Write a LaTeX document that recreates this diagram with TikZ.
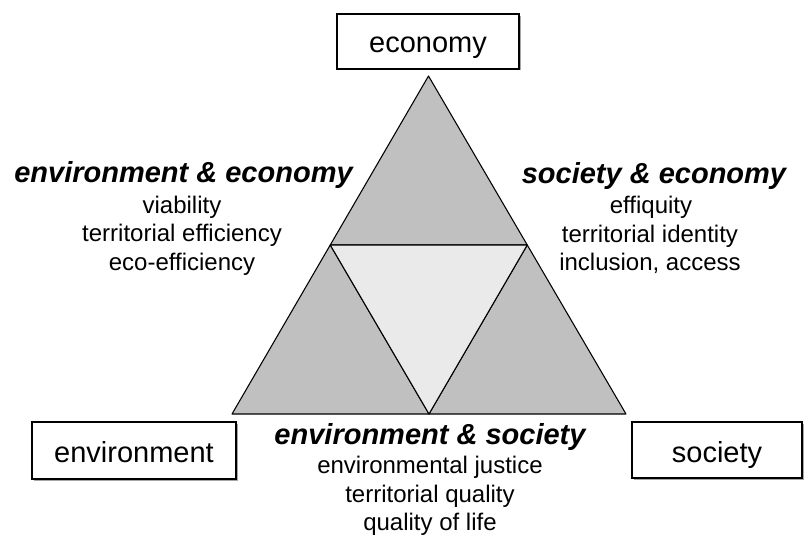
\documentclass[tikz,border=0pt]{standalone}
\usepackage{fontspec}
\setmainfont{Liberation Sans}
\usetikzlibrary{calc}
\begin{document}
\begin{tikzpicture}[x=0.75pt,y=-0.75pt,
  dark/.style={fill=tridark,draw=black,line width=0.8pt,line join=round},
  light/.style={fill=trilight,draw=black,line width=0.8pt,line join=round},
  pillar/.style={draw=black,line width=1.1pt,fill=white,inner sep=0pt},
  boxtext/.style={font=\fontsize{21.75}{26}\selectfont,anchor=base,inner sep=0pt},
  headtext/.style={font=\fontsize{21.75}{26}\selectfont\bfseries\itshape,anchor=base,inner sep=0pt},
  bodytext/.style={font=\fontsize{18}{21}\selectfont,anchor=base,inner sep=0pt}]
\definecolor{tridark}{HTML}{C0C0C0}
\definecolor{trilight}{HTML}{EAEAEA}
\useasboundingbox (0,0) rectangle (804,535);
% triangle vertices
\coordinate (A) at (428.5,76);
\coordinate (L) at (232,414);
\coordinate (R) at (626,414);
\coordinate (ML) at ($(A)!0.5!(L)$);
\coordinate (MR) at ($(A)!0.5!(R)$);
\coordinate (MB) at ($(L)!0.5!(R)$);
\draw[dark] (A) -- (ML) -- (MR) -- cycle;
\draw[dark] (ML) -- (L) -- (MB) -- cycle;
\draw[dark] (MR) -- (MB) -- (R) -- cycle;
\draw[light] (ML) -- (MR) -- (MB) -- cycle;
% boxes
\fill[gray!70] (339,16) rectangle (520.5,70.5);
\draw[pillar] (337,14) rectangle (519,69);
\node[boxtext] (eco) at (428,53) {economy};
\fill[gray!70] (34,424) rectangle (237.5,480.5);
\draw[pillar] (32,422) rectangle (236,479);
\node[boxtext] (env) at (134,462) {environment};
\fill[gray!70] (634,424) rectangle (803.5,479.5);
\draw[pillar] (632,422) rectangle (802,478);
\node[boxtext] (soc) at (717,462) {society};
% environment & economy
\node[headtext] (ee) at (183.5,182) {environment \& economy};
\node[bodytext] (ee1) at (182,213) {viability};
\node[bodytext] (ee2) at (182,241.5) {territorial efficiency};
\node[bodytext] (ee3) at (182,270) {eco-efficiency};
% society & economy
\node[headtext] (se) at (654,183) {society \& economy};
\node[bodytext] (se1) at (651,213) {effiquity};
\node[bodytext] (se2) at (650,242) {territorial identity};
\node[bodytext] (se3) at (650,270) {inclusion, access};
% environment & society
\node[headtext] (es) at (430,444) {environment \& society};
\node[bodytext] (es1) at (430,473) {environmental justice};
\node[bodytext] (es2) at (430,502) {territorial quality};
\node[bodytext] (es3) at (430,530) {quality of life};
\end{tikzpicture}
\end{document}
